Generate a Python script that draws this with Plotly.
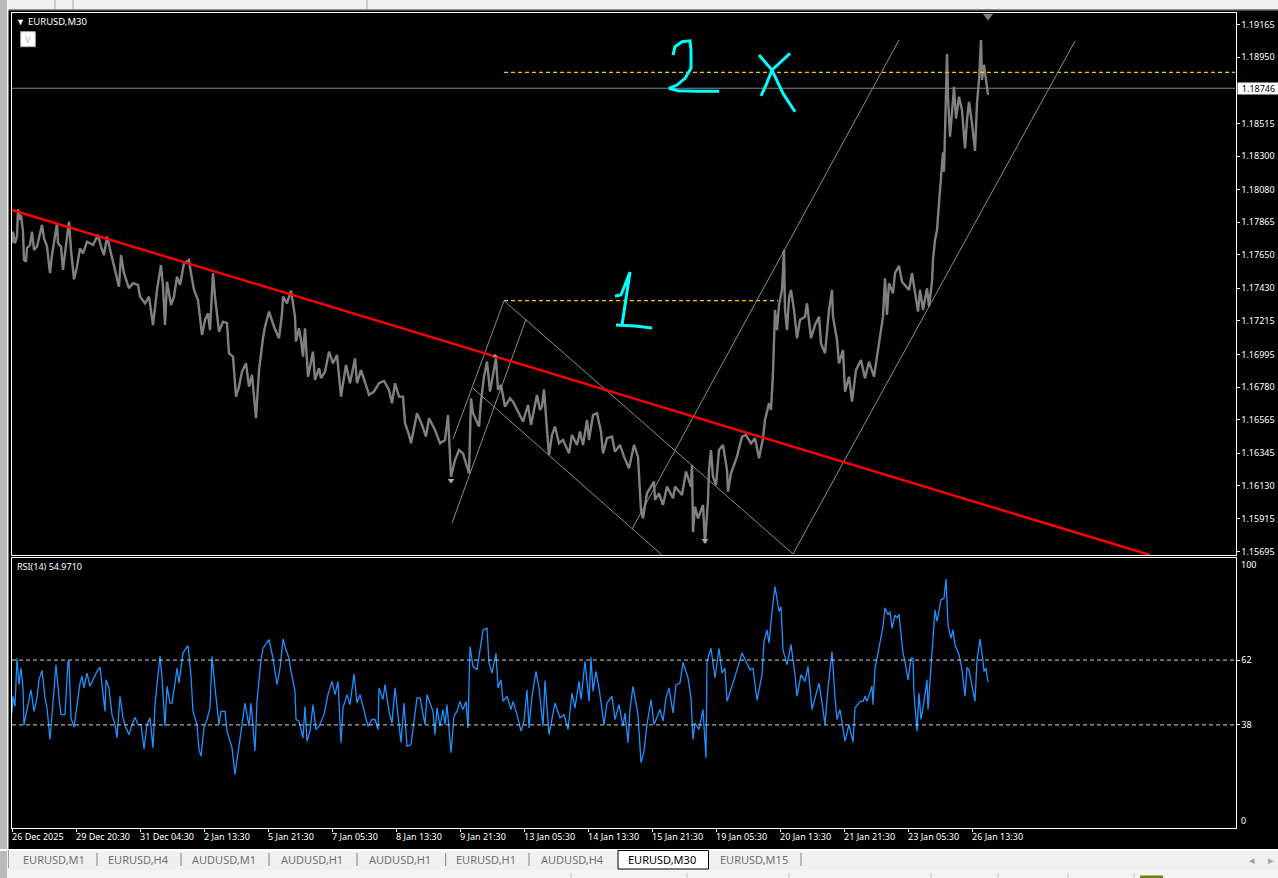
import plotly.graph_objects as go

SYMBOL_LABEL = "EURUSD,M30"
RSI_LABEL = "RSI(14) 54.9710"
CURRENT_PRICE = 1.18746
LEVEL_TICKS = [1.19165, 1.18950, 1.18515, 1.18300, 1.18080, 1.17865, 1.17650, 1.17430, 1.17215,
               1.16995, 1.16780, 1.16565, 1.16345, 1.16130, 1.15915, 1.15695]
TIME_TICKS = [0, 64, 128, 192, 256, 320, 384, 448, 512, 576, 640, 704, 768, 832, 896, 960]
TIME_LABELS = ["26 Dec 2025", "29 Dec 20:30", "31 Dec 04:30", "2 Jan 13:30", "5 Jan 21:30", "7 Jan 05:30",
               "8 Jan 13:30", "9 Jan 21:30", "13 Jan 05:30", "14 Jan 13:30", "15 Jan 21:30", "19 Jan 05:30",
               "20 Jan 13:30", "21 Jan 21:30", "23 Jan 05:30", "26 Jan 13:30"]
TAB_LABELS = ["EURUSD,M1", "EURUSD,H4", "AUDUSD,M1", "AUDUSD,H1", "AUDUSD,H1", "EURUSD,H1", "AUDUSD,H4",
              "EURUSD,M30", "EURUSD,M15"]

PRICE_BARS = [0,1,3,5,6,8,9,11,12,14,15,18,20,22,25,27,30,32,35,38,40,45,46,49,51,53,57,59,62,65,68,71,75,81,86,89,92,95,99,103,107,109,112,117,121,126,128,133,137,141,145,149,151,153,155,159,162,165,168,172,177,179,182,186,188,190,193,196,198,201,203,207,211,215,217,221,224,227,230,234,237,240,244,247,251,253,257,262,267,270,271,275,279,283,284,287,289,291,293,296,301,303,307,309,313,317,321,325,329,334,338,343,345,349,355,357,362,367,372,377,380,383,387,391,393,397,399,405,410,414,417,423,428,433,436,438,439,443,447,451,457,459,461,467,469,472,475,478,481,484,486,489,493,498,501,507,511,516,519,525,528,530,532,535,537,540,543,547,551,557,560,565,568,571,575,577,581,585,589,591,595,600,603,608,612,617,622,626,629,631,635,642,643,647,651,655,661,663,670,674,679,680,681,683,686,691,693,696,697,699,701,704,707,711,715,716,719,725,730,734,739,743,747,751,753,757,759,761,762,763,765,767,770,772,773,775,777,779,782,785,788,793,795,797,799,803,807,809,813,817,820,821,825,827,831,833,837,840,844,849,853,857,862,865,869,871,873,875,877,881,883,887,890,897,900,904,906,908,911,915,917,920,921,923,925,927,930,931,932,933,935,936,938,941,942,944,947,950,951,953,955,957,960,963,965,967,969,970,972,974,976]
PRICE_VALUES = [1.17726,1.17802,1.17726,1.17770,1.17950,1.17879,1.17912,1.17802,1.17616,1.17605,1.17693,1.17715,1.17802,1.17682,1.17704,1.17770,1.17846,1.17759,1.17704,1.17529,1.17649,1.17857,1.17726,1.17704,1.17550,1.17660,1.17868,1.17682,1.17489,1.17572,1.17693,1.17660,1.17736,1.17715,1.17781,1.17704,1.17649,1.17770,1.17660,1.17550,1.17440,1.17649,1.17529,1.17430,1.17463,1.17452,1.17375,1.17331,1.17375,1.17188,1.17419,1.17583,1.17440,1.17188,1.17473,1.17320,1.17375,1.17506,1.17452,1.17594,1.17616,1.17529,1.17419,1.17353,1.17233,1.17123,1.17221,1.17265,1.17155,1.17529,1.17375,1.17144,1.17210,1.17200,1.17002,1.16980,1.16717,1.16783,1.16881,1.16936,1.16783,1.16860,1.16575,1.16892,1.17101,1.17177,1.17276,1.17177,1.17101,1.17265,1.17375,1.17331,1.17414,1.17243,1.17079,1.17167,1.17090,1.16980,1.17167,1.16848,1.17013,1.16827,1.16904,1.16838,1.16881,1.17013,1.16936,1.16991,1.16717,1.16925,1.16805,1.16969,1.16805,1.16892,1.16772,1.16728,1.16750,1.16805,1.16820,1.16761,1.16673,1.16805,1.16717,1.16717,1.16542,1.16465,1.16410,1.16608,1.16531,1.16454,1.16575,1.16498,1.16410,1.16432,1.16596,1.16366,1.16190,1.16300,1.16366,1.16344,1.16212,1.16706,1.16608,1.16520,1.16684,1.16848,1.16947,1.16750,1.16848,1.16969,1.16761,1.16794,1.16651,1.16706,1.16684,1.16608,1.16553,1.16662,1.16531,1.16728,1.16629,1.16651,1.16765,1.16498,1.16333,1.16465,1.16520,1.16410,1.16432,1.16344,1.16465,1.16399,1.16487,1.16399,1.16564,1.16432,1.16596,1.16608,1.16487,1.16344,1.16443,1.16454,1.16355,1.16399,1.16322,1.16246,1.16399,1.16322,1.15971,1.15916,1.16081,1.16158,1.16037,1.16081,1.16004,1.16125,1.16048,1.16125,1.16070,1.16224,1.16125,1.16267,1.15826,1.15993,1.15916,1.16004,1.15752,1.16037,1.16234,1.16366,1.16190,1.16135,1.16366,1.16399,1.16234,1.16092,1.16212,1.16322,1.16454,1.16465,1.16410,1.16443,1.16311,1.16443,1.16564,1.16673,1.16629,1.16870,1.17155,1.17287,1.17155,1.17320,1.17419,1.17682,1.17287,1.17155,1.17364,1.17419,1.17287,1.17101,1.17221,1.17243,1.17331,1.17221,1.17101,1.17188,1.17243,1.17067,1.17002,1.17287,1.17419,1.17243,1.17090,1.16936,1.17024,1.16750,1.16848,1.16684,1.16892,1.16958,1.16838,1.16947,1.16848,1.16980,1.17155,1.17243,1.17496,1.17254,1.17463,1.17397,1.17529,1.17577,1.17473,1.17419,1.17529,1.17375,1.17276,1.17419,1.17287,1.17430,1.17309,1.17473,1.17616,1.17747,1.17813,1.17991,1.18251,1.18324,1.18197,1.18525,1.18971,1.18690,1.18427,1.18668,1.18756,1.18547,1.18690,1.18602,1.18492,1.18350,1.18536,1.18657,1.18515,1.18334,1.18646,1.18800,1.19063,1.18800,1.18899,1.18779,1.18702]

RSI_BARS = [0,1,3,5,7,9,11,12,14,17,19,22,25,27,30,33,35,38,40,44,47,49,53,56,57,59,62,65,68,70,72,75,78,81,85,88,91,93,94,97,100,103,105,108,111,114,117,120,123,126,129,132,135,138,141,143,148,150,153,155,158,160,163,165,167,171,176,179,181,185,187,189,192,195,198,200,203,207,209,213,215,220,223,227,230,233,237,239,243,245,249,251,257,261,265,268,271,274,277,279,283,284,287,291,293,295,298,301,304,307,312,316,320,323,326,329,331,335,338,342,345,348,352,356,360,363,366,367,371,373,377,380,383,386,389,392,395,399,405,408,413,415,418,421,423,425,428,431,433,435,439,442,445,448,451,454,456,458,461,465,468,471,475,477,480,484,486,489,491,495,499,501,505,509,512,515,517,520,524,527,531,533,535,537,543,548,552,556,560,563,567,569,573,577,579,581,584,587,592,595,600,603,607,611,613,616,618,621,626,629,632,635,639,642,648,651,654,657,661,664,668,671,676,679,681,683,687,691,694,695,699,703,707,710,713,715,722,727,730,734,738,741,745,750,752,755,757,760,763,767,769,771,775,779,783,785,789,793,796,800,804,807,811,813,816,820,823,825,828,833,837,841,843,848,851,853,855,858,860,861,863,866,868,871,873,876,878,880,883,885,887,889,891,893,896,899,901,902,905,907,909,912,915,916,919,921,923,925,929,932,934,936,939,941,943,947,950,953,955,957,960,963,965,968,971,972,974,976]
RSI_VALUES = [42.4,48.6,44.9,62.7,52.9,59,51.7,37.9,41.8,46.7,51,43,48,54.7,58.2,48,44.3,32.6,41.8,60.3,48,41.8,41.8,61.5,61.5,40.6,37.1,45.5,53.5,56,51.7,57.2,52.3,54.7,57.8,59.4,48,43,54.7,51.7,41.8,38.1,33.2,48.6,40.6,36.9,34.4,38.1,40.8,38.1,38.1,29.1,38.1,40.6,29.5,45.5,63.6,55.4,37.5,52.3,46.1,46.1,53.5,59,53.5,64.6,67.4,56,43,38.1,28.9,26.4,36.9,40,44.3,63.4,51.7,38.1,43,43,35.7,29.5,19.7,31.4,38.1,46.1,37.5,46.1,28.3,46.7,62.1,66.4,69.6,62.7,52.9,59,69.8,65.8,62.7,57.8,50.4,40,39.4,33.2,44.9,32,35.7,45.5,36.3,37.5,41.8,49.2,54.1,49.2,54.1,31.4,44.3,49.2,45.5,56.8,46.1,49.2,43.7,37.5,40,40,36.3,51.7,47.4,52.9,43,38.7,51.7,41.8,31.4,46.1,30.1,30.7,48,48,38.1,49.2,46.1,43,34.4,44.3,37.5,43.7,38.1,45.5,27.7,41.2,43,46.7,43.7,46.7,36.9,67,59.7,58.4,65.8,73.2,73.8,60.9,57.2,64.6,51.7,54.7,46.7,48.6,43.7,46.7,41.8,35.7,39.4,51,36.9,48.6,57.8,51.7,37.5,54.4,44.3,34.4,46.1,40.6,41.8,36.3,49.8,44.3,54.1,47.4,61.5,46.7,63,50.4,57.8,51.7,38.1,46.1,48.6,40,45.5,37.5,42.4,31.4,43.7,52.3,41.8,24,28.3,38.1,47.4,38.1,43.7,39.4,48,51.7,42.4,52.9,53.5,61.1,55.4,48,32.6,38.7,36.3,43.7,25.8,61.5,66.4,55.4,66.4,57.2,59,46.7,54.7,61.5,64.6,61.5,58.4,59,47.1,56.6,68.9,73.2,68.3,80,89.2,80,81.8,65.8,60.3,67.7,56.6,48.6,56.6,54.1,59.7,43.7,49.2,53.5,43.7,38.1,51.7,65.2,48,40,43.7,32,38.1,31.6,44.3,46.7,46.7,48.6,46.7,49.8,52.3,45.5,59,64.6,68.3,74.4,81.4,78.7,80,73.8,78.7,77.5,79,71.4,64.6,61.5,54.7,62.7,62.7,49.8,35.7,49.8,40,46.7,54.7,43.7,58.4,67.7,80.6,76.3,84.3,84.9,92,75,70.1,73.2,67.7,64,58.4,48.6,59.3,58.4,52.3,46.7,62.1,69.8,61.5,57.8,59,53.8]
RSI_LEVELS = [62, 38]

TREND_BARS = [0, 1138]
TREND_PRICES = [1.17945, 1.15675]
CHANNEL_BARS = [441, 492, None, 440, 514, None, 492, 781, None, 461, 650, None, 620, 887, None, 781, 1063]
CHANNEL_PRICES = [1.16436, 1.17348, None, 1.15884, 1.17226, None, 1.17348, 1.15682, None, 1.16772, 1.15675, None,
                  1.15845, 1.19063, None, 1.15682, 1.19056]
LEVEL_BARS = [492, 766, None, 492, 1223]
LEVEL_PRICES = [1.17348, 1.17348, None, 1.18851, 1.18851]
ARROW_BARS = [439, 693]
ARROW_PRICES = [1.16165, 1.15770]
PEAK_BARS = [483]
PEAK_PRICES = [1.16985]
SHIFT_BAR = [976]
SHIFT_PRICE = [1.19222]
INK_BARS = [603,609,618,614,610,None,604,623,640,None,
            661,663,670,678,679,679,673,665,657,666,685,707,None,
            747,760,771,783,None,778,760,754,749]
INK_PRICES = [1.17379,1.17386,1.17537,1.17353,1.17188,None,1.17188,1.17182,1.17169,None,
              1.18964,1.19019,1.19052,1.19058,1.18997,1.18877,1.18811,1.18767,1.18745,1.18730,1.18726,1.18726,None,
              1.18964,1.18866,1.18712,1.18591,None,1.18976,1.18866,1.18767,1.18695]

W, H = 1278, 878
EFFECTIVE_H = 875
FONT = "Noto Sans"
px = lambda v: v / W
py = lambda v: 1 - v / EFFECTIVE_H

fig = go.Figure()
fig.add_trace(go.Scatter(x=PRICE_BARS, y=PRICE_VALUES, mode="lines", line=dict(color="#808080", width=2.4),
                         xaxis="x", yaxis="y"))
fig.add_trace(go.Scatter(x=LEVEL_BARS, y=LEVEL_PRICES, mode="lines", connectgaps=False,
                         line=dict(color="#ffc000", width=1.3, dash="4px,3px"), xaxis="x", yaxis="y"))
fig.add_trace(go.Scatter(x=CHANNEL_BARS, y=CHANNEL_PRICES, mode="lines", connectgaps=False,
                         line=dict(color="#8c8c8c", width=1), xaxis="x", yaxis="y"))
fig.add_trace(go.Scatter(x=TREND_BARS, y=TREND_PRICES, mode="lines", line=dict(color="#ff0000", width=2.4),
                         xaxis="x", yaxis="y"))
fig.add_trace(go.Scatter(x=[0, 1223.5], y=[CURRENT_PRICE, CURRENT_PRICE], mode="lines",
                         line=dict(color="#778899", width=1), xaxis="x", yaxis="y"))
fig.add_trace(go.Scatter(x=INK_BARS, y=INK_PRICES, mode="lines", connectgaps=False,
                         line=dict(color="#00ffff", width=3), xaxis="x", yaxis="y"))
fig.add_trace(go.Scatter(x=ARROW_BARS, y=ARROW_PRICES, mode="markers",
                         marker=dict(symbol="triangle-down", size=6, color="#9fb0c0"), xaxis="x", yaxis="y"))
fig.add_trace(go.Scatter(x=PEAK_BARS, y=PEAK_PRICES, mode="markers",
                         marker=dict(symbol="triangle-up", size=5, color="#8a8f9a"), xaxis="x", yaxis="y"))
fig.add_trace(go.Scatter(x=SHIFT_BAR, y=SHIFT_PRICE, mode="markers", cliponaxis=False,
                         marker=dict(symbol="triangle-down", size=9, color="#708090"), xaxis="x", yaxis="y"))
fig.add_trace(go.Scatter(x=RSI_BARS, y=RSI_VALUES, mode="lines", line=dict(color="#1e90ff", width=1.3),
                         xaxis="x2", yaxis="y2"))
for level in RSI_LEVELS:
    fig.add_trace(go.Scatter(x=[0, 1223.5], y=[level, level], mode="lines",
                             line=dict(color="#d0d0d0", width=1, dash="4px,3px"), xaxis="x2", yaxis="y2"))

shapes = []
def rect(x0, y0, x1, y1, fill, line=None):
    shapes.append(dict(type="rect", xref="paper", yref="paper", layer="below", x0=px(x0), x1=px(x1),
                       y0=py(y0), y1=py(y1), fillcolor=fill, line=dict(color=line or fill, width=1 if line else 0)))
def vline(x, y0, y1, color):
    shapes.append(dict(type="line", xref="paper", yref="paper", layer="below", x0=px(x), x1=px(x),
                       y0=py(y0), y1=py(y1), line=dict(color=color, width=1)))

rect(0, 0, W, 10, "#f0f0f0")
rect(0, 9, W, 10.5, "#8c8c8c")
rect(0, 0, 7, 885, "#b9b9b9")
rect(7, 0, 8.5, 850, "#f4f4f4")
rect(0, 849, W, 851, "#ffffff")
rect(7, 851, W, 870, "#f0f0f0")
rect(7, 870, W, 885, "#f4f4f4")
rect(618, 850.5, 708.5, 869, "#ffffff", "#000000")
rect(8, 850, 9, 868, "#a0a0a0")
for sx in [97, 181, 269, 357, 445.7, 529, 801]:
    vline(sx, 853, 866, "#808080")
for sx in [571, 687, 789, 931, 998, 1068, 1134]:
    vline(sx, 873, 885, "#c0c0c0")
for sx in [55, 73, 367]:
    vline(sx, 0, 9, "#a8a8a8")
rect(1140, 875.5, 1163, 885, "#6f7f10")
rect(20.7, 31.7, 35.3, 46.7, "#ffffff", "#b0b0b0")

def note(text, x, y, size=9, color="#ffffff", anchor="left", **kw):
    return dict(text=text, xref="paper", yref="paper", x=px(x), y=py(y), xanchor=anchor, yanchor="middle",
                showarrow=False, font=dict(family=FONT, size=size, color=color), **kw)

ann = [note(SYMBOL_LABEL, 26, 21, size=9.5), note("▼", 13.5, 21, size=9), note(RSI_LABEL, 15, 566),
       note("V", 28, 39, size=9, color="#c0c0c0", anchor="center")]
for t, lab in zip(TIME_TICKS, TIME_LABELS):
    ann.append(dict(text=lab, xref="x2", yref="paper", x=t, xshift=-2, y=py(836.5), xanchor="left", yanchor="middle",
                    showarrow=False, font=dict(family=FONT, size=9, color="#ffffff")))
ann.append(dict(text="1.18746", xref="paper", yref="y", x=px(1236.8), y=CURRENT_PRICE, xanchor="left",
                yanchor="middle", showarrow=False, bgcolor="#ffffff", width=41, height=11, align="center",
                font=dict(family=FONT, size=9, color="#000000"), borderpad=0))
ann.append(dict(text="100", xref="paper", yref="y2", x=px(1239), y=100, yshift=-7, xanchor="left", yanchor="middle",
                showarrow=False, font=dict(family=FONT, size=9, color="#ffffff")))
ann.append(dict(text="0", xref="paper", yref="y2", x=px(1239), y=0, yshift=7, xanchor="left", yanchor="middle",
                showarrow=False, font=dict(family=FONT, size=9, color="#ffffff")))
for lab, cx in zip(TAB_LABELS, [54, 138, 224, 312, 400, 486, 572.7, 662, 754]):
    active = lab == SYMBOL_LABEL
    ann.append(note(lab, cx, 859.5, size=11, color="#000000" if active else "#707070", anchor="center"))
ann.append(note("◂", 1252, 859, size=11, color="#a0a0a0", anchor="center"))
ann.append(note("▸", 1271, 859, size=11, color="#a0a0a0", anchor="center"))

axis_common = dict(showgrid=False, zeroline=False, linecolor="#ffffff", linewidth=1, mirror=True, showline=True)
fig.update_layout(
    width=W, height=H, margin=dict(l=0, r=0, t=0, b=0), showlegend=False, hovermode=False,
    paper_bgcolor="#000000", plot_bgcolor="#000000", shapes=shapes, annotations=ann,
    font=dict(family=FONT, size=9, color="#ffffff"),
    xaxis=dict(domain=[px(11.5), px(1235.5)], range=[-0.5, 1223.5], showticklabels=False, ticks="", anchor="y", **axis_common),
    yaxis=dict(domain=[py(555), py(13)], range=[1.15675, 1.19241], side="right", anchor="x", tickmode="array",
               tickvals=LEVEL_TICKS, ticktext=[f"{v:.5f}" for v in LEVEL_TICKS], ticks="outside", ticklen=3,
               tickcolor="#ffffff", tickfont=dict(family=FONT, size=9, color="#ffffff"), **axis_common),
    xaxis2=dict(domain=[px(11.5), px(1235.5)], range=[-0.5, 1223.5], anchor="y2", tickmode="array", tickvals=TIME_TICKS,
                showticklabels=False, ticks="outside", ticklen=3, tickcolor="#ffffff", **axis_common),
    yaxis2=dict(domain=[py(827.5), py(557.5)], range=[0, 100], side="right", anchor="x2", tickmode="array",
                tickvals=RSI_LEVELS, ticktext=[str(v) for v in RSI_LEVELS], ticks="outside", ticklen=3,
                tickcolor="#ffffff", tickfont=dict(family=FONT, size=9, color="#ffffff"), **axis_common),
)
fig.write_html("out.html", config={"displayModeBar": False}, post_script="document.body.style.margin='0';")
